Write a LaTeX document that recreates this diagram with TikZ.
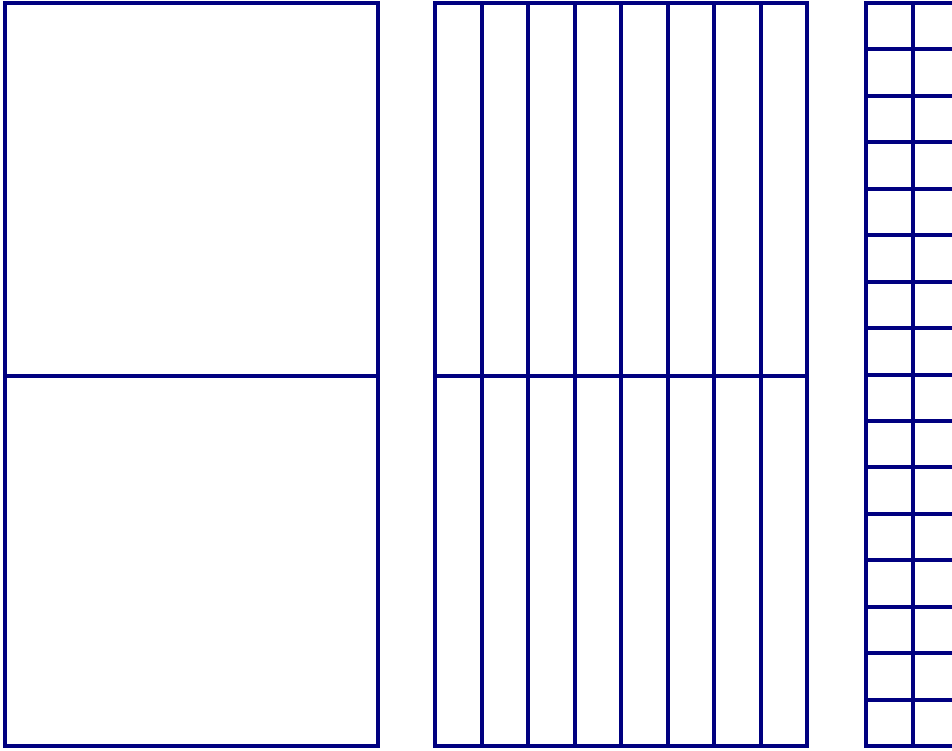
\documentclass[tikz,border=0pt]{standalone}
\definecolor{navyline}{RGB}{0,0,128}
\tikzset{gridline/.style={draw=navyline,line width=4pt,line cap=rect}}
\begin{document}
\begin{tikzpicture}[x=1pt,y=-1pt]
\useasboundingbox (0,0) rectangle (952,750);
\clip (0,0) rectangle (952,750);
% left panel
\draw[gridline] (5,3) rectangle (378,746);
\draw[gridline] (5,376) -- (378,376);
% middle panel
\foreach \i in {0,...,8} {
  \draw[gridline] ({435+\i*46.5},3) -- ({435+\i*46.5},746);
}
\draw[gridline] (435,3) -- (807,3);
\draw[gridline] (435,376) -- (807,376);
\draw[gridline] (435,746) -- (807,746);
% right panel
\foreach \i in {0,...,8} {
  \draw[gridline] ({866+\i*46.5},3) -- ({866+\i*46.5},746);
}
\foreach \j in {0,...,16} {
  \draw[gridline] (866,{3+\j*46.44}) -- (1238,{3+\j*46.44});
}
\end{tikzpicture}
\end{document}
